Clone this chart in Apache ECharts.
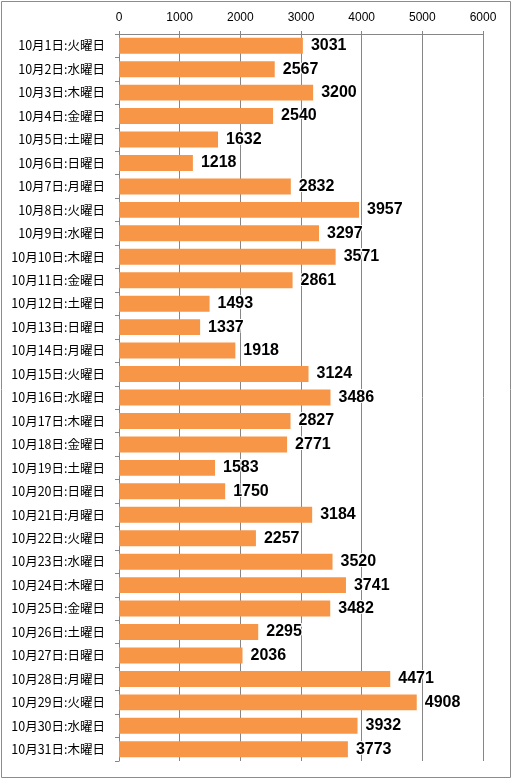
<!DOCTYPE html>
<html>
<head>
<meta charset="utf-8">
<script src="https://cdn.jsdelivr.net/npm/echarts@6/dist/echarts.min.js"></script>
<style>
  html, body { margin: 0; padding: 0; background: #fff; }
  #chart { width: 513px; height: 779px; }
</style>
</head>
<body>
<div id="chart"></div>
<script>
const days = ['10月1日:火曜日', '10月2日:水曜日', '10月3日:木曜日', '10月4日:金曜日', '10月5日:土曜日',
  '10月6日:日曜日', '10月7日:月曜日', '10月8日:火曜日', '10月9日:水曜日', '10月10日:木曜日',
  '10月11日:金曜日', '10月12日:土曜日', '10月13日:日曜日', '10月14日:月曜日', '10月15日:火曜日',
  '10月16日:水曜日', '10月17日:木曜日', '10月18日:金曜日', '10月19日:土曜日', '10月20日:日曜日',
  '10月21日:月曜日', '10月22日:火曜日', '10月23日:水曜日', '10月24日:木曜日', '10月25日:金曜日',
  '10月26日:土曜日', '10月27日:日曜日', '10月28日:月曜日', '10月29日:火曜日', '10月30日:水曜日',
  '10月31日:木曜日'];
const counts = [3031, 2567, 3200, 2540, 1632, 1218, 2832, 3957, 3297, 3571,
  2861, 1493, 1337, 1918, 3124, 3486, 2827, 2771, 1583, 1750,
  3184, 2257, 3520, 3741, 3482, 2295, 2036, 4471, 4908, 3932,
  3773];
const xTicks = [0, 1000, 2000, 3000, 4000, 5000, 6000];

const lineColor = '#868686';
const chart = echarts.init(document.getElementById('chart'));

chart.setOption({
  animation: false,
  // 外枠
  graphic: [{
    type: 'rect',
    shape: { x: 1.5, y: 1.5, width: 509, height: 776 },
    style: { fill: 'none', stroke: '#8c8c8c', lineWidth: 1 },
    silent: true
  }],
  grid: { left: 119, right: 30, top: 34, bottom: 18 },
  xAxis: {
    type: 'value',
    position: 'top',
    min: xTicks[0],
    max: xTicks[xTicks.length - 1],
    interval: 1000,
    axisLine: { show: true, lineStyle: { color: lineColor } },
    axisTick: { show: true, length: 3, lineStyle: { color: lineColor } },
    splitLine: { show: true, lineStyle: { color: lineColor, width: 1 } },
    axisLabel: {
      color: '#000',
      fontFamily: 'Liberation Sans',
      fontSize: 12,
      margin: 10,
      formatter: v => (xTicks.includes(v) ? String(v) : '')
    }
  },
  yAxis: {
    type: 'category',
    inverse: true,
    data: days,
    axisLine: { show: true, lineStyle: { color: lineColor } },
    axisTick: { show: true, length: 4, lineStyle: { color: lineColor } },
    axisLabel: {
      color: '#000',
      fontFamily: 'Noto Sans CJK JP',
      fontSize: 12.5,
      margin: 14
    }
  },
  series: [{
    type: 'bar',
    data: counts,
    barCategoryGap: '32%',
    itemStyle: { color: '#F79646' },
    label: {
      show: true,
      position: 'right',
      distance: 8,
      color: '#000',
      fontFamily: 'Liberation Sans',
      fontWeight: 'bold',
      fontSize: 16,
      textBorderColor: '#fff',
      textBorderWidth: 2
    }
  }]
});
</script>
</body>
</html>
